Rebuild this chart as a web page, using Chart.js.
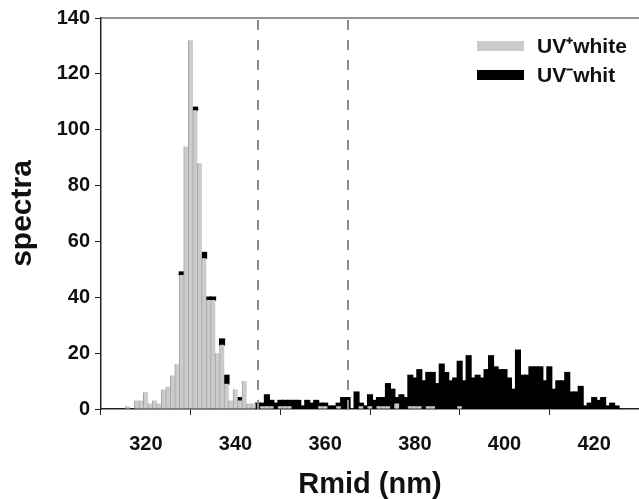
<!DOCTYPE html>
<html>
<head>
<meta charset="utf-8">
<script src="https://cdn.jsdelivr.net/npm/chart.js@4/dist/chart.umd.min.js"></script>
<style>
html,body{margin:0;padding:0;background:#fff;}
#wrap{width:639px;height:499px;position:relative;}
</style>
</head>
<body>
<div id="wrap"><canvas id="c" width="639" height="499"></canvas></div>
<script>
// ---- data (1 nm histogram bins, centres in nm) ----
const binCenters = [
  316,317,318,319,320,321,322,323,324,325,
  326,327,328,329,330,331,332,333,334,335,
  336,337,338,339,340,341,342,343,344,345,
  346,347,348,349,350,351,352,353,354,355,
  356,357,358,359,360,361,362,363,364,365,
  366,367,368,369,370,371,372,373,374,375,
  376,377,378,379,380,381,382,383,384,385,
  386,387,388,389,390,391,392,393,394,395,
  396,397,398,399,400,401,402,403,404,405,
  406,407,408,409,410,411,412,413,414,415,
  416,417,418,419,420,421,422,423,424,425
];
const uvPlusWhite = [
  1,0,3,3,6,2,3,2,7,8,
  12,16,48,94,132,107,88,54,39,39,
  20,23,9,3,7,3,10,2,2,0,
  1,1,1,0,1,1,1,0,0,0,
  0,0,0,1,1,0,0,1,0,0,
  0,0,1,0,1,0,1,1,1,0,
  2,0,0,1,1,1,0,1,1,0,
  0,0,0,0,1,0,0,0,0,0,
  0,0,0,0,0,0,0,0,0,0,
  0,0,0,0,0,0,0,0,0,0,
  0,0,0,0,0,0,0,0,0,0
];
const uvMinusWhite = [
  0,0,0,0,0,0,0,0,0,0,
  0,0,1,0,0,1,0,2,1,1,
  0,2,3,0,0,1,0,0,0,2,
  1,4,2,2,2,2,2,3,3,1,
  3,2,3,1,1,1,1,1,4,4,
  0,6,1,1,4,3,3,3,8,7,
  2,5,4,11,10,13,10,12,12,9,
  16,13,10,11,16,10,19,11,12,11,
  14,19,15,14,14,11,7,21,12,12,
  15,15,15,10,15,7,10,10,13,6,
  6,8,1,2,4,3,4,1,2,1
];
const seriesNames = ['UV\u207Awhite', 'UV\u207Bwhit'];
const xTicks = [320, 340, 360, 380, 400, 420];
const yTicks = [0, 20, 40, 60, 80, 100, 120, 140];
const dividers = [345, 365];
const xTitle = 'Rmid (nm)';
const yTitle = 'spectra';

const FONT = '"Liberation Sans", Arial, Helvetica, sans-serif';
Chart.defaults.font.family = FONT;
Chart.defaults.color = '#111';

// empty bins are left undrawn (null) so they leave no sliver on the stack
const toXY = vals => binCenters.map((b, i) => ({x: b, y: vals[i] === 0 ? null : vals[i]}));

const decor = {
  id: 'decor',
  afterDatasetsDraw(chart) {
    const {ctx, chartArea: a, scales: {x}} = chart;
    ctx.save();
    // dashed reference lines
    ctx.strokeStyle = '#8c8c8c';
    ctx.lineWidth = 2;
    ctx.setLineDash([10, 10]);
    dividers.forEach(v => {
      const px = Math.round(x.getPixelForValue(v));
      ctx.beginPath();
      ctx.moveTo(px, a.top + 2);
      ctx.lineTo(px, a.bottom);
      ctx.stroke();
    });
    ctx.setLineDash([]);
    // top frame line
    ctx.strokeStyle = '#707070';
    ctx.lineWidth = 1.5;
    ctx.beginPath();
    ctx.moveTo(a.left, a.top);
    ctx.lineTo(a.right, a.top);
    ctx.stroke();
    // legend
    const bx = a.right - 162;
    const rows = [a.top + 28, a.top + 57];
    ctx.font = 'bold 21px ' + FONT;
    ctx.textBaseline = 'middle';
    ctx.textAlign = 'left';
    chart.data.datasets.forEach((d, i) => {
      const yc = rows[i];
      ctx.fillStyle = d.backgroundColor;
      ctx.fillRect(bx, yc - 5, 47, 10);
      ctx.fillStyle = '#111';
      ctx.fillText(d.label, bx + 60, yc + 1);
    });
    ctx.restore();
  }
};

new Chart(document.getElementById('c'), {
  type: 'bar',
  data: {
    datasets: [
      {
        label: seriesNames[0],
        data: toXY(uvPlusWhite),
        backgroundColor: '#cbcbcb',
        borderColor: '#a2a2a2',
        borderWidth: {left: 1, right: 0, top: 0, bottom: 0},
        borderSkipped: false,
        barPercentage: 1,
        categoryPercentage: 1,
        inflateAmount: 0.6,
        order: 1
      },
      {
        label: seriesNames[1],
        data: toXY(uvMinusWhite),
        backgroundColor: '#000000',
        borderColor: '#000000',
        borderWidth: 0,
        barPercentage: 1,
        categoryPercentage: 1,
        inflateAmount: 0.8,
        order: 2
      }
    ]
  },
  options: {
    responsive: false,
    animation: false,
    devicePixelRatio: 1,
    layout: {padding: {top: 18, right: 0, bottom: 0, left: 0}},
    plugins: {legend: {display: false}, tooltip: {enabled: false}},
    scales: {
      x: {
        type: 'linear',
        min: 310,
        max: 430,
        stacked: true,
        offset: false,
        afterBuildTicks: s => { s.ticks = xTicks.map(v => ({value: v})); },
        afterFit: s => { s.height = 90; },
        grid: {display: true, drawOnChartArea: false, drawTicks: true, tickLength: 6, color: '#222', lineWidth: 1},
        border: {display: true, color: '#222', width: 1.5},
        ticks: {font: {size: 20, weight: 'bold'}, color: '#111', padding: 17, maxRotation: 0},
        title: {display: true, text: xTitle, font: {size: 29, weight: 'bold', lineHeight: 1}, color: '#111', padding: {top: 0, bottom: 0}}
      },
      y: {
        type: 'linear',
        min: 0,
        max: 140,
        stacked: true,
        afterBuildTicks: s => { s.ticks = yTicks.map(v => ({value: v})); },
        afterFit: s => { s.width = 101; },
        grid: {display: true, drawOnChartArea: false, drawTicks: true, tickLength: 6, color: '#222', lineWidth: 1},
        border: {display: true, color: '#222', width: 1.5},
        ticks: {font: {size: 20, weight: 'bold'}, color: '#111', padding: 5},
        title: {display: true, text: yTitle, font: {size: 30, weight: 'bold', lineHeight: 1.2}, color: '#111', padding: {top: 5, bottom: 0}}
      }
    }
  },
  plugins: [decor]
});
</script>
</body>
</html>
